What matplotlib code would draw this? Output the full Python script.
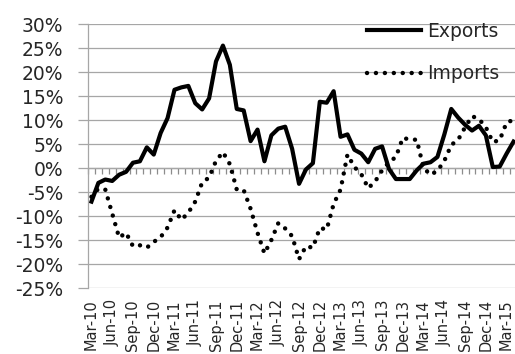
import matplotlib
matplotlib.use('Agg')
import matplotlib.pyplot as plt
import numpy as np

# monthly % change, Mar-10 .. Apr-15 (last point sits just off the right edge)
months = ['Mar-10', 'Apr-10', 'May-10', 'Jun-10', 'Jul-10', 'Aug-10', 'Sep-10', 'Oct-10', 'Nov-10', 'Dec-10',
          'Jan-11', 'Feb-11', 'Mar-11', 'Apr-11', 'May-11', 'Jun-11', 'Jul-11', 'Aug-11', 'Sep-11', 'Oct-11', 'Nov-11', 'Dec-11',
          'Jan-12', 'Feb-12', 'Mar-12', 'Apr-12', 'May-12', 'Jun-12', 'Jul-12', 'Aug-12', 'Sep-12', 'Oct-12', 'Nov-12', 'Dec-12',
          'Jan-13', 'Feb-13', 'Mar-13', 'Apr-13', 'May-13', 'Jun-13', 'Jul-13', 'Aug-13', 'Sep-13', 'Oct-13', 'Nov-13', 'Dec-13',
          'Jan-14', 'Feb-14', 'Mar-14', 'Apr-14', 'May-14', 'Jun-14', 'Jul-14', 'Aug-14', 'Sep-14', 'Oct-14', 'Nov-14', 'Dec-14',
          'Jan-15', 'Feb-15', 'Mar-15', 'Apr-15']

exports = [-7.0, -3.1, -2.4, -2.7, -1.4, -0.8, 1.1, 1.4, 4.3, 2.8,
           7.3, 10.4, 16.3, 16.8, 17.1, 13.5, 12.2, 14.5, 22.2, 25.5, 21.5, 12.3,
           12.0, 5.6, 8.0, 1.4, 6.8, 8.2, 8.6, 4.0, -3.3, -0.3, 1.0, 13.8,
           13.6, 16.0, 6.5, 7.0, 3.8, 3.0, 1.2, 4.0, 4.5, -0.2, -2.3, -2.3,
           -2.3, -0.5, 0.9, 1.2, 2.3, 7.0, 12.3, 10.5, 9.0, 7.8, 8.8, 6.8,
           0.2, 0.3, 3.0, 5.5]

imports = [-6.0, -4.3, -4.5, -9.5, -14.5, -13.5, -16.3, -16.1, -16.6, -15.4,
           -14.4, -12.4, -8.8, -10.8, -9.3, -7.0, -3.0, -2.0, 1.5, 3.3, 0.8, -4.5,
           -4.6, -8.5, -13.5, -17.8, -15.0, -11.5, -12.6, -14.2, -19.0, -16.3, -16.6, -12.5,
           -12.8, -7.5, -4.5, 2.8, 0.2, -1.3, -4.2, -2.8, -0.5, 1.2, 2.3, 6.3,
           5.9, 5.9, 0.0, -1.4, -0.6, 1.5, 4.8, 5.9, 8.5, 10.8, 10.2, 8.5,
           5.4, 5.8, 9.5, 10.0]

yticks = list(range(-25, 31, 5))

grid_c = '#a6a6a6'
txt_c = '#262626'

fig = plt.figure(figsize=(5.15, 3.54), dpi=100)
# axes runs a little past the right edge, like the cropped original
ax = fig.add_axes([88/515, 66/354, 429/515, 264/354])

x = np.arange(len(months))
ax.plot(x, exports, color='black', lw=3.0, solid_joinstyle='round', label='Exports')
ax.plot(x, imports, color='black', lw=3.2, linestyle=(0, (0.01, 2.0)),
        dash_capstyle='round', label='Imports')

ax.set_xlim(-0.5, len(months) - 0.5)
ax.set_ylim(-25, 30)

ax.set_yticks(yticks)
ax.set_yticklabels([f'{v}%' for v in yticks])
ax.yaxis.grid(True, color=grid_c, lw=0.9)
ax.set_axisbelow(True)
ax.tick_params(axis='y', length=7, width=0.9, color=grid_c, pad=11,
               labelsize=13.5, labelcolor=txt_c)

lab_idx = x[::3]
ax.set_xticks(lab_idx)
ax.set_xticklabels([months[i] for i in lab_idx], rotation=90, va='top', ha='center')
ax.tick_params(axis='x', length=0, pad=8, labelsize=10.5, labelcolor=txt_c)

for s in ['top', 'right', 'bottom']:
    ax.spines[s].set_visible(False)
ax.spines['left'].set_color(grid_c)
ax.spines['left'].set_linewidth(0.9)

# category axis crossing at 0% with small tick marks between months
zero_ax = ax.secondary_xaxis(25/55)
zero_ax.set_xticks(np.arange(-0.5, len(months), 1))
zero_ax.tick_params(axis='x', direction='out', length=4, width=0.9,
                    color='#8c8c8c', labelbottom=False, labeltop=False)
zero_ax.spines['bottom'].set_color('#8c8c8c')
zero_ax.spines['bottom'].set_linewidth(0.9)
zero_ax.spines['top'].set_visible(False)

leg = ax.legend(loc='upper right', bbox_to_anchor=(499/515, 1 - 22/354),
                bbox_transform=fig.transFigure, frameon=False, fontsize=13.5,
                handlelength=2.9, handletextpad=0.3, labelspacing=1.25,
                borderpad=0, borderaxespad=0)
for t in leg.get_texts():
    t.set_color(txt_c)

fig.savefig('out.png', dpi=100)
